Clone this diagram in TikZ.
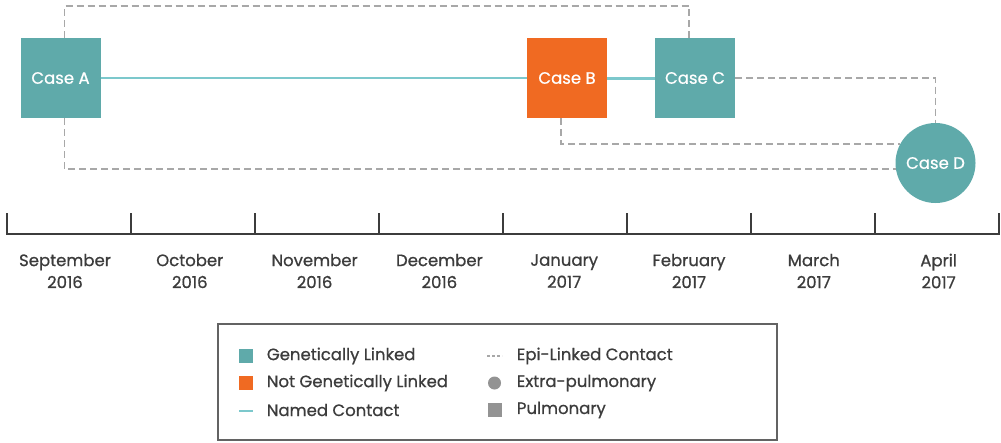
\documentclass[tikz,border=0pt]{standalone}
\usepackage{fontspec}
\setmainfont{Poppins}[FakeBold=0.7]
\usetikzlibrary{positioning}
\definecolor{teal}{HTML}{5FAAAA}
\definecolor{tealline}{HTML}{7CC8CC}
\definecolor{orng}{HTML}{F06A22}
\definecolor{epigray}{HTML}{A8A8A8}
\definecolor{ink}{HTML}{3C3C3C}
\begin{document}
\begin{tikzpicture}[x=1pt,y=-1pt,
	case/.style={rectangle, minimum size=80pt, inner sep=0pt, text=white, font=\fontsize{16.5}{16.5}\selectfont},
	named/.style={color=tealline, line width=2.2pt},
	epi/.style={color=epigray, line width=1.6pt, dash pattern=on 7pt off 4pt},
	month/.style={align=center, text=ink, font=\fontsize{16.5}{22}\selectfont},
	legtext/.style={anchor=west, text=ink, inner sep=0pt, font=\fontsize{16.5}{16.5}\selectfont},
	legsym/.style={inner sep=0pt, minimum size=14pt}]
	
	\fill[white] (0,0) rectangle (1001,442);
	
	% cases
	\node[case, fill=teal] (caseA) at (60.5,78) {Case A};
	\node[case, fill=orng] (caseB) at (567,78) {Case B};
	\node[case, fill=teal] (caseC) at (695,78) {Case C};
	\node[case, circle, fill=teal, minimum size=80pt] (caseD) at (935.5,163) {Case D};
	
	% named contacts
	\draw[named] (caseA) -- (caseB);
	\draw[named, line width=3pt] (caseB) -- (caseC);
	
	% epi-linked contacts
	\draw[epi] ([xshift=4pt]caseA.north) -- ++(0,-32) -| ([xshift=-6pt]caseC.north);
	\draw[epi] (caseC.east) -| (caseD.north);
	\draw[epi] ([xshift=-6pt]caseB.south) |- (caseD.152);
	\draw[epi] ([xshift=4pt]caseA.south) |- (caseD.189);
	
	% timeline
	\draw[ink, line width=2pt] (7,234) -- (999,234);
	\foreach \i in {0,...,8}
		\draw[ink, line width=2pt] (7+124*\i,213) -- (7+124*\i,235);
	
	\foreach \m [count=\i from 0] in {September\\2016, October\\2016, November\\2016, December\\2016, January\\2017, February\\2017, March\\2017, April\\2017}
		\node[month] (m\i) at (65+124.8*\i,271) {\m};
	
	% legend
	\draw[color=ink!80, line width=1.5pt] (218,324) rectangle (777,440);
	\node[legsym, fill=teal] (symGL) at (246,356) {};
	\node[legsym, fill=orng] (symNGL) at (246,383) {};
	\coordinate (symNCa) at (239,411);
	\coordinate (symNCb) at (253,411);
	\draw[named] (symNCa) -- (symNCb);
	\coordinate (symEPa) at (487,356);
	\coordinate (symEPb) at (502,356);
	\draw[color=epigray, line width=1.2pt, dash pattern=on 3pt off 2pt] (symEPa) -- (symEPb);
	\node[legsym, circle, fill=gray!85, minimum size=13pt] (symEP) at (494.5,383) {};
	\node[legsym, fill=gray!85] (symPul) at (494.5,410) {};
	
	\node[legtext] (txtGL) at (266.7,356) {Genetically Linked};
	\node[legtext] (txtNGL) at (266.7,383) {Not Genetically Linked};
	\node[legtext] (txtNC) at (266.7,410) {Named Contact};
	\node[legtext] (txtEPL) at (516.7,356) {Epi-Linked Contact};
	\node[legtext] (txtEP) at (516.7,383) {Extra-pulmonary};
	\node[legtext] (txtPul) at (516.7,410) {Pulmonary};
	
\end{tikzpicture}
\end{document}
